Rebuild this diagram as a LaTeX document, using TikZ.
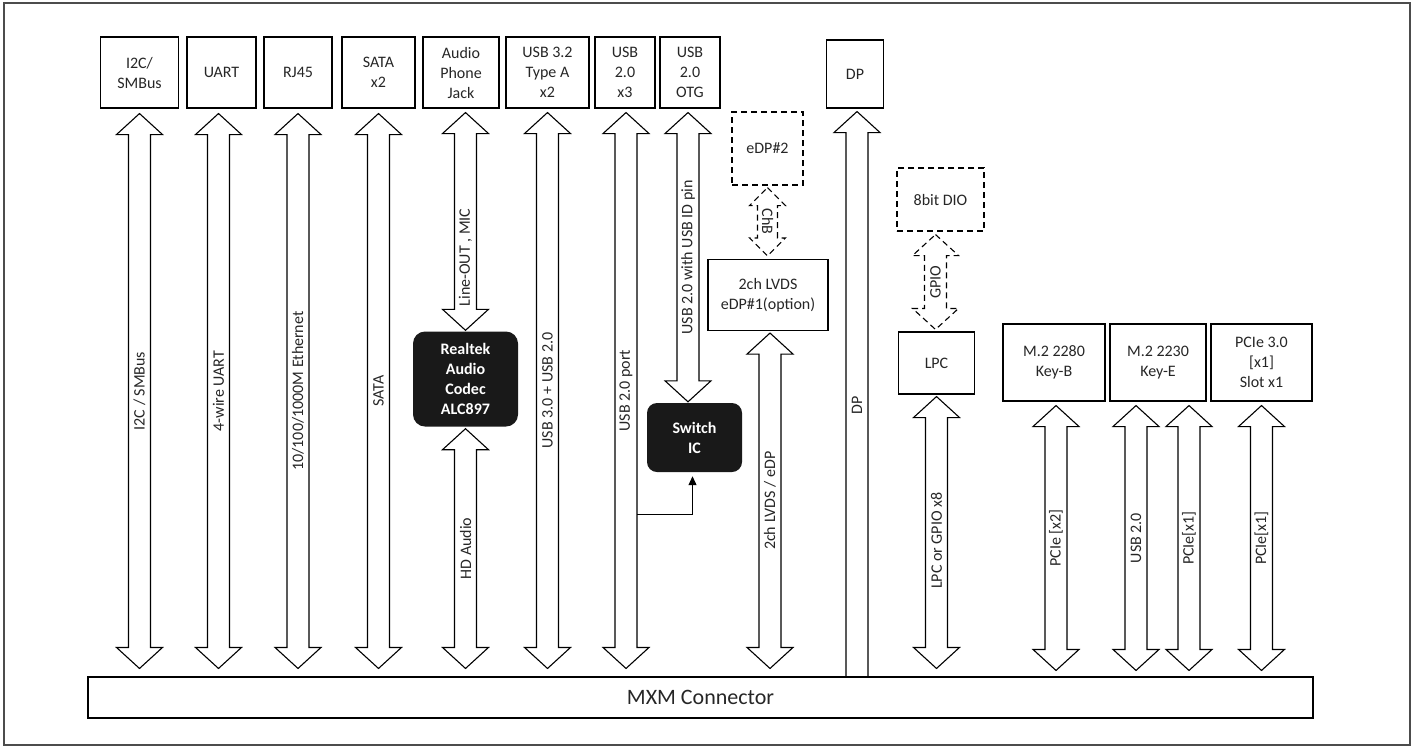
\documentclass[tikz,border=0pt]{standalone}
\usepackage{fontspec}
\setmainfont{Carlito}
\usetikzlibrary{positioning,calc,arrows.meta}

\newcommand{\ahw}{23}
\newcommand{\ahl}{21}
\newcommand{\asw}{11}
% hollow two-headed bus arrow: [style]{top tip}{bottom tip}{label pos}{label}
\newcommand{\fatarrow}[5][]{%
	\path #2 coordinate (T) #3 coordinate (B);
	\draw [fat,#1] (T) -- ++(\ahw,\ahl) -- ++(\asw-\ahw,0) -- ($(B)+(\asw,-\ahl)$) -- ++(\ahw-\asw,0) -- (B)
		-- ++(-\ahw,-\ahl) -- ++(\ahw-\asw,0) -- ($(T)+(-\asw,\ahl)$) -- ++(\asw-\ahw,0) -- cycle;
	\path (T) -- (B) node[pos=#4, lbl] {#5};
}

\begin{document}
\begin{tikzpicture}[x=1pt, y=-1pt]
	\tikzstyle{every node}=[font=\fontsize{16}{20}\selectfont, text=black!85, align=center, inner sep=0pt]
	\tikzstyle{box}=[draw, line width=1.1pt, minimum height=71]
	\tikzstyle{dsh}=[dashed, dash pattern=on 6pt off 4pt]
	\tikzstyle{dbox}=[box, dsh]
	\tikzstyle{chip}=[fill=black!90, text=white, rounded corners=12, font=\fontsize{16}{20}\selectfont\bfseries]
	\tikzstyle{fat}=[draw, fill=white, line width=1.1pt, line join=miter]
	\tikzstyle{lbl}=[rotate=90]
	\useasboundingbox (0,0) rectangle (1415,748);
	\draw [line width=1.3pt, black!70] (4,3) rectangle (1410,745);

	% top row
	\draw (139.5,72.5) node (i2c) [box, minimum width=78] {I2C/\\SMBus};
	\draw (221.5,72.5) node (uart) [box, minimum width=69] {UART};
	\draw (298,72.5) node (rj45) [box, minimum width=68] {RJ45};
	\draw (378.5,72.5) node (sata) [box, minimum width=73] {SATA\\x2};
	\draw (461,72.5) node (jack) [box, minimum width=76] {Audio\\Phone\\Jack};
	\draw (547.5,72.5) node (usba) [box, minimum width=83] {USB 3.2\\Type A\\x2};
	\draw (625,72.5) node (usb2) [box, minimum width=60] {USB\\2.0\\x3};
	\draw (690,72.5) node (otg) [box, minimum width=60] {USB\\2.0\\OTG};
	\draw (855,74) node (dp) [box, minimum width=57, minimum height=68] {DP};
	\draw (767.5,148.5) node (edp2) [dbox, minimum width=71, minimum height=73] {eDP\#2};
	\draw (768,295) node (lvds) [box, minimum width=120] {2ch LVDS\\eDP\#1(option)};
	\draw (940.5,199.5) node (dio) [dbox, minimum width=87, minimum height=63] {8bit DIO};
	\draw (936.5,363) node (lpc) [box, minimum width=76, minimum height=62] {LPC};
	\draw (1054,362.5) node (m2b) [box, minimum width=102, minimum height=77] {M.2 2280\\Key-B};
	\draw (1158,362.5) node (m2e) [box, minimum width=96, minimum height=77] {M.2 2230\\Key-E};
	\draw (1261.5,362.5) node (pcie) [box, minimum width=101, minimum height=77] {PCIe 3.0\\{[x1]}\\Slot x1};
	\draw (465.5,379) node (codec) [chip, minimum width=105, minimum height=95] {Realtek\\Audio\\Codec\\ALC897};
	\draw (694.5,437.5) node (sw) [chip, minimum width=95, minimum height=69, rounded corners=10] {Switch\\IC};
	\draw (700.5,697.5) node (mxm) [box, minimum width=1225, minimum height=41, font=\fontsize{22}{26}\selectfont] {MXM Connector};

	% buses
	\fatarrow{($(i2c.south)+(0,5)$)}{($(i2c.south|-mxm.north)+(0,-8)$)}{0.5}{I2C / SMBus}
	\fatarrow{($(uart.south)+(-3,5)$)}{($(uart.south|-mxm.north)+(-3,-8)$)}{0.5}{4-wire UART}
	\fatarrow{($(rj45.south)+(0,5)$)}{($(rj45.south|-mxm.north)+(0,-8)$)}{0.5}{10/100/1000M Ethernet}
	\fatarrow{($(sata.south)+(0,5)$)}{($(sata.south|-mxm.north)+(0,-8)$)}{0.5}{SATA}
	\fatarrow{($(codec.north|-jack.south)+(0,4)$)}{($(codec.north)+(0,-1)$)}{0.665}{Line-OUT , MIC}
	\fatarrow{($(codec.south)+(0,2)$)}{($(codec.south|-mxm.north)+(0,-8)$)}{0.5}{HD Audio}
	\fatarrow{($(usba.south)+(0,4)$)}{($(usba.south|-mxm.north)+(0,-8)$)}{0.5}{USB 3.0 + USB 2.0}
	\fatarrow{($(usb2.south)+(1,4)$)}{($(usb2.south|-mxm.north)+(1,-8)$)}{0.5}{USB 2.0 port}
	\fatarrow{($(otg.south)+(-2,4)$)}{($(otg.south|-sw.north)+(-2,-1)$)}{0.5}{USB 2.0 with USB ID pin}
	{\renewcommand{\ahw}{18}\renewcommand{\ahl}{18}\renewcommand{\asw}{10}
	\fatarrow[dsh]{($(edp2.south)+(0,2)$)}{($(edp2.south|-lvds.north)+(0,-3)$)}{0.5}{}
	\path (T) -- (B) node[midway, rotate=-90] {ChB};}
	\fatarrow{($(lvds.south)+(2,2)$)}{($(lvds.south|-mxm.north)+(2,-8)$)}{0.5}{2ch LVDS / eDP}
	\fatarrow[dsh]{($(lpc.north|-dio.south)+(-1,3)$)}{($(lpc.north)+(-1,-2)$)}{0.5}{GPIO}
	\fatarrow{($(lpc.south)+(0,2)$)}{($(lpc.south|-mxm.north)+(0,-8)$)}{0.53}{LPC or GPIO x8}
	\fatarrow{($(m2b.south)+(2,4)$)}{($(m2b.south|-mxm.north)+(2,-6)$)}{0.5}{PCIe [x2]}
	\fatarrow{($(m2e.south)+(-22,4)$)}{($(m2e.south|-mxm.north)+(-22,-6)$)}{0.5}{USB 2.0}
	\fatarrow{($(m2e.south)+(31,4)$)}{($(m2e.south|-mxm.north)+(31,-6)$)}{0.5}{PCIe[x1]}
	\fatarrow{($(pcie.south)+(0,4)$)}{($(pcie.south|-mxm.north)+(0,-6)$)}{0.5}{PCIe[x1]}

	% DP runs straight into the connector
	\path ($(dp.south)+(2,3)$) coordinate (T) ($(dp.south|-mxm.north)+(2,-0.5)$) coordinate (B);
	\draw [fat] ($(B)+(-\asw,0)$) -- ($(T)+(-\asw,\ahl)$) -- ++(\asw-\ahw,0) -- (T) -- ++(\ahw,\ahl) -- ++(\asw-\ahw,0) -- ($(B)+(\asw,0)$);
	\path (T) -- (B) node[pos=0.52, lbl] {DP};

	% usb 2.0 tap into the switch
	\coordinate (tap) at ($(usb2.south|-sw.south)+(\asw+1,42)$);
	\draw [line width=1.1pt, shorten >=4pt, -{Triangle[length=9pt, width=8pt]}] (tap) -| ($(sw.south)+(-2,0)$);
\end{tikzpicture}
\end{document}
